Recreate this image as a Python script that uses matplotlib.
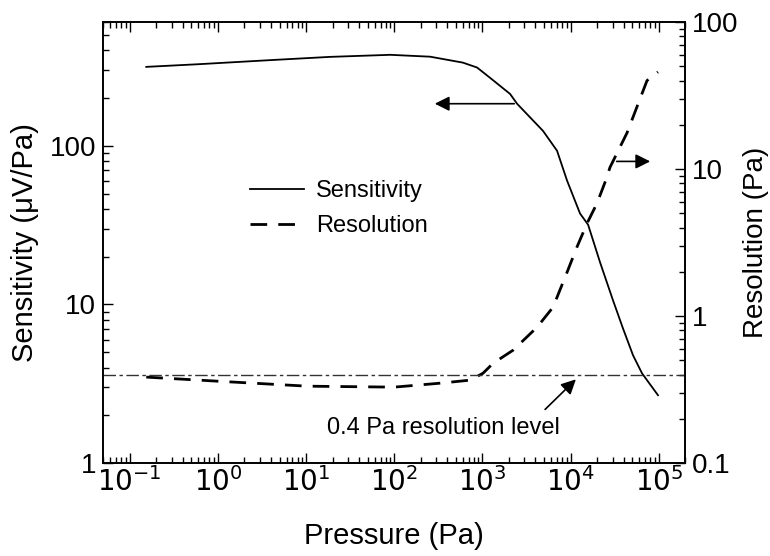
import numpy as np
import matplotlib
matplotlib.use("Agg")
from matplotlib import pyplot as plt
from matplotlib.ticker import LogLocator, NullFormatter

plt.rcParams['font.family'] = ['Liberation Sans', 'DejaVu Sans']

# sensitivity curve (left axis, uV/Pa)
sens_p = [0.154, 0.58, 4.2, 18.7, 90, 255, 600, 870, 1220, 2060, 2470, 4870, 7020,
          9120, 12800, 15800, 21600, 30300, 39300, 51100, 64600, 98000]
sens_v = [314, 326, 347, 363, 374, 364, 334, 311, 268, 212, 184, 124, 93,
          60.3, 37.4, 31.8, 18.4, 10.6, 7.06, 4.78, 3.68, 2.68]

# resolution curve (right axis, Pa)
res_p = [0.154, 1.0, 10.3, 100, 331, 724, 1016, 1321, 2230, 4170, 6320, 9120,
         11800, 15400, 19950, 24600, 28000, 43700, 73600, 98000]
res_v = [0.385, 0.361, 0.334, 0.329, 0.350, 0.367, 0.409, 0.478, 0.587, 0.842, 1.15, 1.99,
         2.95, 4.29, 5.87, 8.16, 10.3, 17.7, 40.1, 45.9]

level = 0.4

fig = plt.figure(figsize=(7.7, 5.56), dpi=100)
ax = fig.add_axes([0.134, 0.167, 0.756, 0.793])
ax2 = ax.twinx()

l1, = ax.plot(sens_p, sens_v, color='k', lw=1.3, label='Sensitivity')
l2, = ax2.plot(res_p, res_v, color='k', lw=2.0, ls=(0, (6, 4)), label='Resolution')
ax2.axhline(level, color='#333333', lw=1.0, ls=(0, (9, 2.5, 2.5, 2.5)))

ax.set_xscale('log')
ax.set_yscale('log')
ax2.set_yscale('log')
ax.set_xlim(0.05, 2e5)
ax.set_ylim(1, 600)
ax2.set_ylim(0.1, 100)

ax.set_yticks([1, 10, 100])
ax.set_yticklabels(['1', '10', '100'])
ax2.set_yticks([0.1, 1, 10, 100])
ax2.set_yticklabels(['0.1', '1', '10', '100'])
for a in (ax, ax2):
    a.yaxis.set_minor_locator(LogLocator(base=10, subs=np.arange(2, 10)))
    a.yaxis.set_minor_formatter(NullFormatter())
ax.set_xticks([1e-1, 1e0, 1e1, 1e2, 1e3, 1e4, 1e5])
ax.set_xticklabels(['$10^{-1}$', '$10^{0}$', '$10^{1}$', '$10^{2}$',
                    '$10^{3}$', '$10^{4}$', '$10^{5}$'])
ax.xaxis.set_minor_locator(LogLocator(base=10, subs=np.arange(2, 10), numticks=20))
ax.xaxis.set_minor_formatter(NullFormatter())

ax.tick_params(which='both', direction='in', top=True, right=False, labelsize=20, width=1.0)
ax.tick_params(which='major', length=7)
ax.tick_params(which='minor', length=4)
ax2.tick_params(which='both', direction='in', labelsize=20, width=1.0)
ax2.tick_params(which='major', length=7)
ax2.tick_params(which='minor', length=4)
ax.tick_params(axis='x', pad=3)
ax.tick_params(axis='y', pad=5)
ax2.tick_params(axis='y', pad=5)
for a in (ax, ax2):
    for s in a.spines.values():
        s.set_linewidth(1.2)

ax.set_xlabel('Pressure (Pa)', fontsize=21, labelpad=18)
ax.set_ylabel('Sensitivity (\u03bcV/Pa)', fontsize=21, labelpad=8)
ax2.set_ylabel('Resolution (Pa)', fontsize=20, labelpad=3)

ax.legend(handles=[l1, l2], loc='upper left', bbox_to_anchor=(0.215, 0.69),
          frameon=False, fontsize=17, handlelength=2.3, handletextpad=0.5, labelspacing=0.55)

# direction arrows
ax.annotate('', xy=(268, 184), xytext=(2470, 184),
            arrowprops=dict(arrowstyle='-|>', color='k', lw=1.2, mutation_scale=22))
ax2.annotate('', xy=(86000, 11.3), xytext=(31000, 11.3),
             arrowprops=dict(arrowstyle='-|>', color='k', lw=1.2, mutation_scale=22))

ax.annotate('', xy=(12100, 3.47), xytext=(4880, 2.12),
            arrowprops=dict(arrowstyle='-|>', color='k', lw=1.2, mutation_scale=22))
ax.text(17.3, 1.66, '0.4 Pa resolution level', fontsize=17, ha='left', va='center')

fig.savefig('out.png', dpi=100)
